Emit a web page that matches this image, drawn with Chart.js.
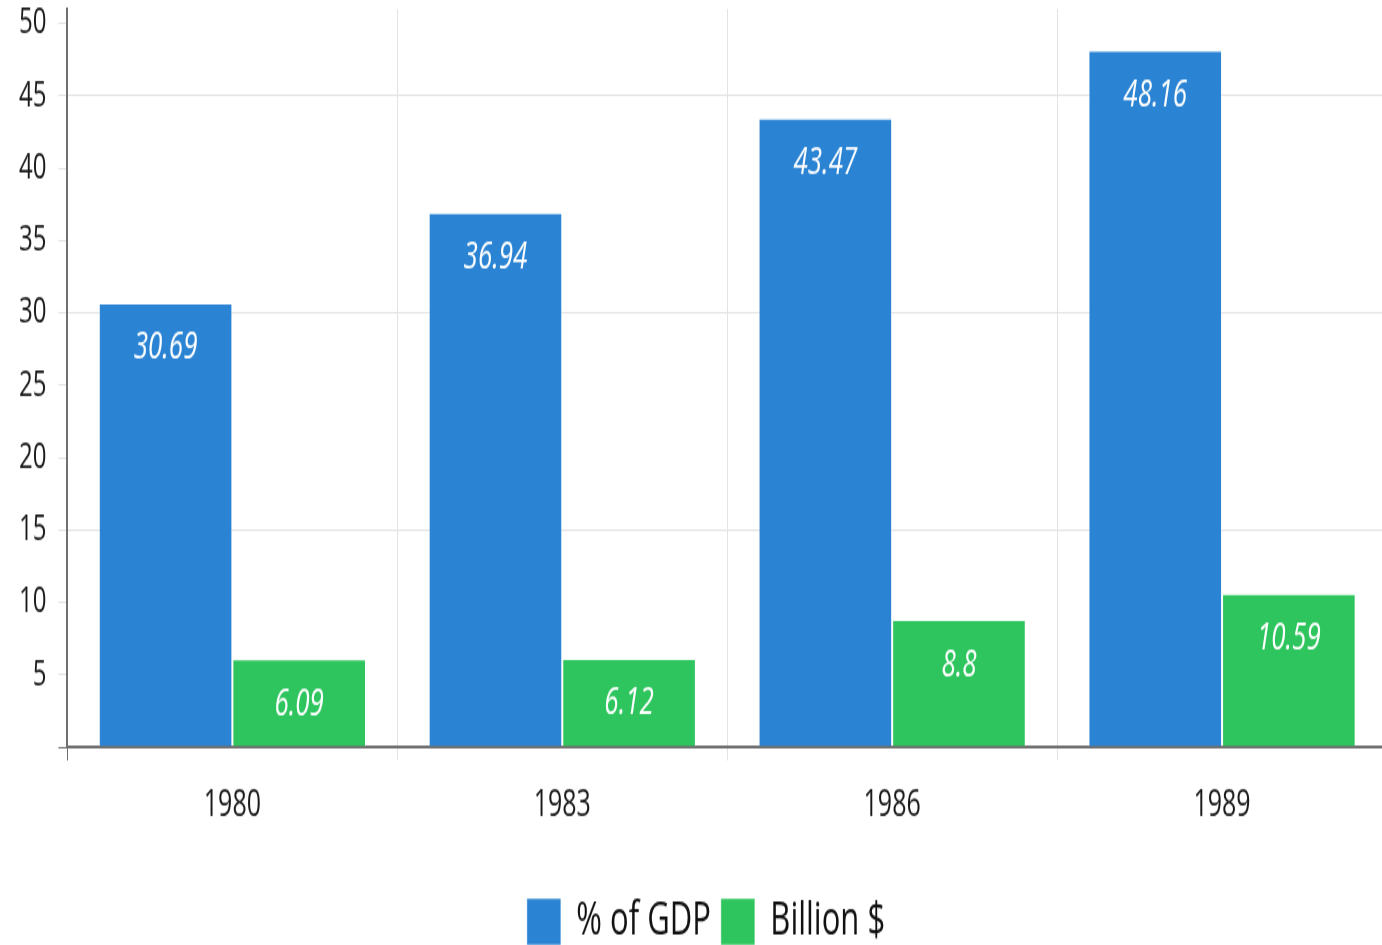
<!DOCTYPE html>
<html>
<head>
<meta charset="utf-8">
<script src="https://cdn.jsdelivr.net/npm/chart.js@4.4.1/dist/chart.umd.min.js"></script>
<style>
  html, body { margin: 0; padding: 0; overflow: hidden; background: #ffffff; }
  #chart { display: block; }
</style>
</head>
<body>
<!-- drawn at 1400x640 and shown taller, which gives the tall, narrow lettering -->
<canvas id="chart" width="1400" height="640" style="width:1400px;height:960px;"></canvas>
<script>
// Data
const years = ['1980', '1983', '1986', '1989'];
const gdpShare = [30.69, 36.94, 43.47, 48.16];
const billions = [6.09, 6.12, 8.8, 10.59];
const seriesNames = ['% of GDP', 'Billion $'];
const yTickValues = [0, 5, 10, 15, 20, 25, 30, 35, 40, 45, 50];
const yMax = 51;
const gridValues = [15, 30, 45];

const BLUE = '#2b84d3';
const GREEN = '#2ec55e';
const AXIS = '#707070';
const GRID = '#e3e3e3';

// White italic value written inside the top of each bar
const valueLabels = {
  id: 'valueLabels',
  afterDatasetsDraw(chart) {
    const ctx = chart.ctx;
    ctx.save();
    ctx.font = 'italic 26px "Open Sans"';
    ctx.fillStyle = '#ffffff';
    ctx.textAlign = 'center';
    ctx.textBaseline = 'middle';
    chart.data.datasets.forEach((ds, i) => {
      chart.getDatasetMeta(i).data.forEach((bar, j) => {
        ctx.fillText(String(ds.data[j]), bar.x, bar.y + 30);
      });
    });
    ctx.restore();
  }
};

// Nudge the legend a little to the right of the canvas centre
const legendNudge = {
  id: 'legendNudge',
  afterLayout(chart) {
    if (chart.legend) {
      chart.legend.left += 9;
      chart.legend.right += 9;
    }
  }
};

new Chart(document.getElementById('chart'), {
  type: 'bar',
  data: {
    labels: years,
    datasets: [
      {
        label: seriesNames[0],
        data: gdpShare,
        backgroundColor: BLUE,
        borderColor: 'rgba(255,255,255,0.45)',
        borderWidth: 1,
        categoryPercentage: 0.81,
        barPercentage: 1
      },
      {
        label: seriesNames[1],
        data: billions,
        backgroundColor: GREEN,
        borderColor: 'rgba(255,255,255,0.45)',
        borderWidth: 1,
        categoryPercentage: 0.81,
        barPercentage: 1
      }
    ]
  },
  options: {
    responsive: false,
    devicePixelRatio: 1,
    animation: false,
    events: [],
    layout: { padding: { left: 7, right: 13, top: 6, bottom: 0 } },
    plugins: {
      tooltip: { enabled: false },
      legend: {
        position: 'bottom',
        labels: {
          boxWidth: 34,
          boxHeight: 31,
          padding: 10,
          color: '#111111',
          font: { family: '"Open Sans"', size: 31 }
        }
      }
    },
    scales: {
      x: {
        offset: true,
        border: { display: true, color: AXIS, width: 2 },
        grid: {
          color: (c) => (c.index === 0 ? AXIS : GRID),
          lineWidth: 1,
          tickLength: 9
        },
        ticks: {
          padding: 15,
          color: '#1a1a1a',
          font: { family: '"Open Sans"', size: 25 }
        },
        afterFit(scale) {
          scale.height = 91;
          scale.paddingLeft = 0;
          scale.paddingRight = 0;
        }
      },
      y: {
        min: 0,
        max: yMax,
        border: { display: true, color: AXIS, width: 2 },
        grid: {
          color: (c) => (c.tick && gridValues.includes(c.tick.value) ? GRID : 'rgba(0,0,0,0)'),
          tickColor: (c) => (c.tick && c.tick.value === 0 ? AXIS : GRID),
          lineWidth: 1,
          tickLength: 9
        },
        ticks: {
          padding: 12,
          color: '#1a1a1a',
          font: { family: '"Open Sans"', size: 24 },
          // the baseline value carries no label
          callback: (v) => (v === 0 ? '' : String(v))
        },
        afterBuildTicks(scale) {
          scale.ticks = yTickValues.map((v) => ({ value: v }));
        },
        afterFit(scale) {
          scale.paddingTop = 0;
          scale.paddingBottom = 0;
        }
      }
    }
  },
  plugins: [valueLabels, legendNudge]
});
</script>
</body>
</html>
